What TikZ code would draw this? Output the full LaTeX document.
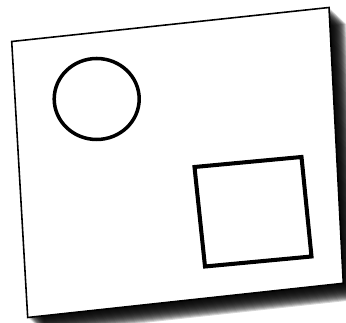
\documentclass[tikz,border=0pt]{standalone}
\begin{document}
\begin{tikzpicture}[x=0.02cm,y=-0.02cm,
  paper/.style={fill=white,draw=black,line width=0.9pt,line join=miter},
  ringline/.style={draw=black,line width=2pt},
  sq/.style={draw=black,line width=2.3pt,line join=miter}]
\useasboundingbox (0,0) rectangle (346,323);
\coordinate (tl) at (11.7,41.5);
\coordinate (tr) at (329,7.5);
\coordinate (br) at (343.3,283.3);
\coordinate (bl) at (27.7,317.5);
% shadow
\foreach \i in {1,...,17}{
  \fill[black,opacity=0.17] ([shift={(\i*1.0,\i*0.95)}]tl) -- ([shift={(\i*1.0,\i*0.95)}]tr) -- ([shift={(\i*1.0,\i*0.95)}]br) -- ([shift={(\i*1.0,\i*0.95)}]bl) -- cycle;
}
\path[paper] (tl) -- (tr) -- (br) -- (bl) -- cycle;
\draw[ringline] (96.7,99) ellipse [x radius=42.5, y radius=40.5];
\coordinate (s1) at (194.5,167);
\coordinate (s2) at (301.5,157);
\coordinate (s3) at (311.5,256.5);
\coordinate (s4) at (205,266.5);
\draw[sq] (s1) -- (s2) -- (s3) -- (s4) -- cycle;
\end{tikzpicture}
\end{document}
